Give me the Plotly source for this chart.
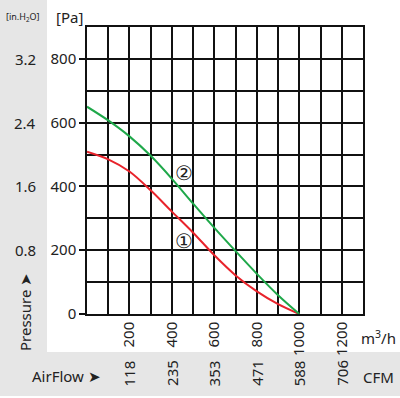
import plotly.graph_objects as go

# Data
flow_m3h = [0, 100, 200, 300, 400, 500, 600, 700, 800, 900, 1000]
curve1_pa = [509, 485, 447, 388, 321, 255, 184, 121, 71, 31, 0]
curve2_pa = [650, 607, 557, 496, 424, 346, 270, 197, 126, 59, 0]
x_ticks = [200, 400, 600, 800, 1000, 1200]
cfm_labels = ["118", "235", "353", "471", "588", "706"]
y_ticks = [0, 200, 400, 600, 800]
inh2o_labels = ["0.8", "1.6", "2.4", "3.2"]
inh2o_pos = [200, 400, 600, 800]

W, H = 400, 398
L, R, T, B = 87, 363, 27, 314
FONT = "Noto Sans"
TXT = "#222222"

def px(xp):
    return (xp - L) / (R - L)

def py(yp):
    return (B - yp) / (B - T)

fig = go.Figure()
fig.add_trace(go.Scatter(x=flow_m3h, y=curve1_pa, mode="lines", line=dict(color="#e8232b", width=2, shape="spline", smoothing=0.9), showlegend=False))
fig.add_trace(go.Scatter(x=flow_m3h, y=curve2_pa, mode="lines", line=dict(color="#1fa84a", width=2, shape="spline", smoothing=0.9), showlegend=False))

shapes = [
    dict(type="rect", xref="paper", yref="paper", x0=px(0), x1=px(47), y0=py(352), y1=py(0), fillcolor="#e6e6e6", line=dict(width=0), layer="below"),
    dict(type="rect", xref="paper", yref="paper", x0=px(0), x1=px(400), y0=py(396), y1=py(352), fillcolor="#e6e6e6", line=dict(width=0), layer="below"),
]

def A(x, y, text, size=15, xref="paper", yref="paper", angle=0):
    return dict(x=x, y=y, xref=xref, yref=yref, text=text, textangle=angle, showarrow=False,
                xanchor="center", yanchor="middle", font=dict(family=FONT, size=size, color=TXT))

ann = []
for v, t in zip(x_ticks, cfm_labels):
    ann.append(A(v, py(373), t, xref="x", angle=-90))
for v, t in zip(inh2o_pos, inh2o_labels):
    ann.append(A(px(25), v, t, yref="y"))
ann += [
    A(px(23), py(17), "[in.H<sub>2</sub>O]", size=9),
    A(px(69), py(17), "[Pa]"),
    A(px(25), py(312), "Pressure ➤", angle=-90),
    A(px(66), py(376), "AirFlow ➤"),
    A(px(378), py(337), "m<sup>3</sup>/h"),
    A(px(378), py(377), "CFM"),
    A(457, 444, "②", size=20, xref="x", yref="y"),
    A(457, 231, "①", size=20, xref="x", yref="y"),
]

fig.update_layout(
    width=W, height=H,
    margin=dict(l=L, r=W - R, t=T, b=H - B, pad=0),
    paper_bgcolor="white", plot_bgcolor="white",
    shapes=shapes, annotations=ann,
    font=dict(family=FONT, size=15, color=TXT),
)
fig.update_xaxes(range=[0, 1300], tickvals=x_ticks, tickangle=-90, ticks="", showgrid=True, gridcolor="#111", gridwidth=1.5,
                 minor=dict(dtick=100, tick0=0, showgrid=True, gridcolor="#111", gridwidth=1.5),
                 showline=True, linecolor="#111", linewidth=1.5, mirror=True, zeroline=False,
                 tickfont=dict(family=FONT, size=15, color=TXT), fixedrange=True)
fig.update_yaxes(range=[0, 900], tickvals=y_ticks, ticks="outside", ticklen=6, tickcolor="#111", tickwidth=1.5,
                 showgrid=True, gridcolor="#111", gridwidth=1.5,
                 minor=dict(dtick=100, tick0=0, showgrid=True, gridcolor="#111", gridwidth=1.5),
                 showline=True, linecolor="#111", linewidth=1.5, mirror=True, zeroline=False,
                 tickfont=dict(family=FONT, size=15, color=TXT), fixedrange=True)

fig.write_html("out.html", config={"displayModeBar": False},
               post_script="document.body.style.margin='0';document.body.style.overflow='hidden';")
